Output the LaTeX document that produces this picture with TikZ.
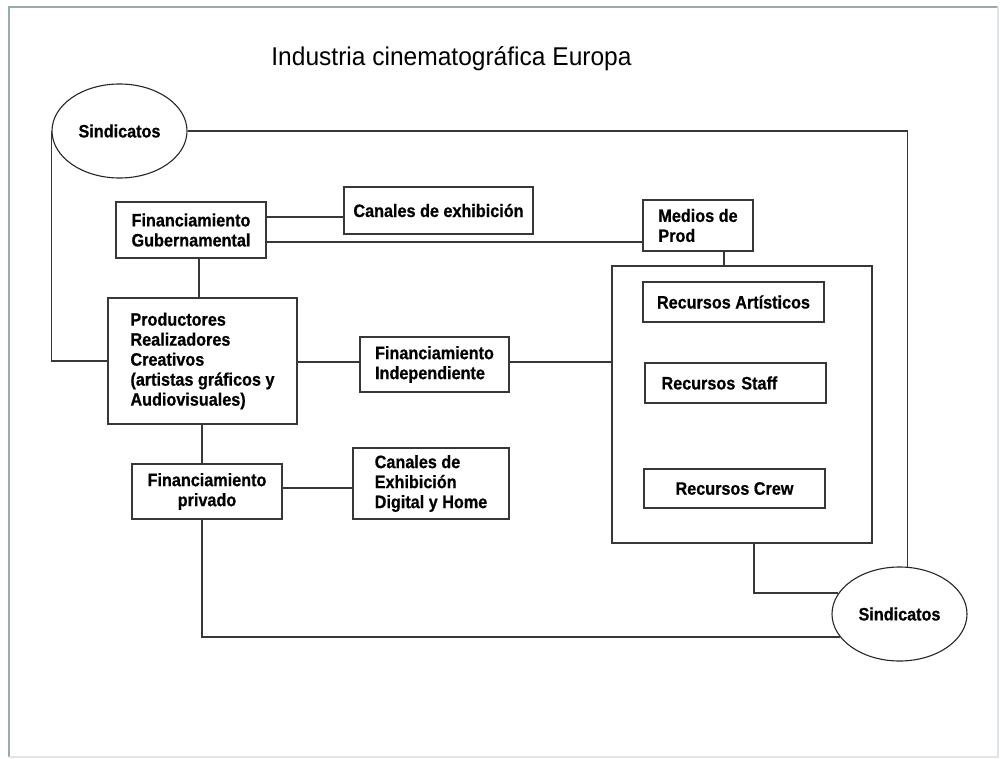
\documentclass[tikz,border=0pt]{standalone}
\usepackage{fontspec}
\setmainfont{Liberation Sans}
\newfontfamily\boxfont{Liberation Sans}[UprightFont={* Bold}, FakeStretch=0.9, FakeBold=0.6]
\newfontfamily\titlefont{Liberation Sans}[FakeStretch=0.955]
\usetikzlibrary{shapes.geometric}
\definecolor{framegray}{RGB}{150,172,168}
\definecolor{inkgray}{RGB}{55,55,55}
\begin{document}
\begin{tikzpicture}[x=1pt,y=-1pt,
  labelfont/.style={font=\boxfont\fontsize{18}{20}\selectfont},
  box/.style={draw=inkgray, line width=1.3pt, inner sep=0pt, align=left, labelfont},
  cbox/.style={box, align=center},
  union/.style={ellipse, draw=black!85, line width=1.1pt, minimum width=135pt,
                minimum height=94pt, inner sep=0pt, labelfont},
  link/.style={draw=inkgray, line width=1.2pt}]

  % page and frame
  \useasboundingbox (0,0) rectangle (1000,759);
  \fill[white] (0,0) rectangle (1000,759);
  \draw[framegray, line width=2pt] (9,757) -- (9,7) -- (998,7);
  \draw[framegray!30, line width=1.5pt] (998,7) -- (998,757) -- (9,757);

  % title
  \node[anchor=base, font=\titlefont\fontsize{25.7}{28}\selectfont] (title) at (451.5,66)
    {Industria cinematográfica Europa};

  % unions
  \node[union] (s1) at (119.5,131) {Sindicatos};
  \node[union] (s2) at (899.5,614) {Sindicatos};

  % funding, production and exhibition boxes
  \node[box, minimum width=150pt, minimum height=56pt] (fg) at (191,230)
    {Financiamiento\\Gubernamental};
  \node[cbox, minimum width=189pt, minimum height=47pt] (ce) at (438.5,210.5)
    {Canales de exhibición};
  \node[box, minimum width=110pt, minimum height=51pt] (mp) at (698,225.5)
    {Medios de\\Prod};
  \node[box, minimum width=189pt, minimum height=126pt] (prod) at (202.5,361)
    {Productores\\Realizadores\\Creativos\\(artistas gráficos y\\Audiovisuales)};
  \node[box, minimum width=149pt, minimum height=55pt] (fi) at (434.5,364.5)
    {Financiamiento\\Independiente};
  \node[cbox, minimum width=150pt, minimum height=55pt] (fp) at (207,491.5)
    {Financiamiento\\privado};
  \node[box, minimum width=156pt, minimum height=71pt] (cd) at (431,483.5)
    {Canales de\\Exhibición\\Digital y Home};

  % resources group
  \node[draw=inkgray, line width=2pt, minimum width=260pt, minimum height=277pt,
        inner sep=0pt] (big) at (742,404.5) {};
  \node[cbox, minimum width=181pt, minimum height=40pt] (ra) at (733.5,302)
    {Recursos Artísticos};
  \node[box, minimum width=181pt, minimum height=40pt, text width=148pt] (rs)
    at (735.5,383) {Recursos Staff};
  \node[cbox, minimum width=181pt, minimum height=39pt] (rc) at (734.5,488.5)
    {Recursos Crew};

  % connector rows and columns
  \coordinate (ya) at (0,217);
  \coordinate (yb) at (0,242);
  \coordinate (yc) at (0,362);
  \coordinate (yd) at (0,488);
  \coordinate (xa) at (199,0);
  \coordinate (xb) at (724,0);
  \coordinate (xc) at (202,0);
  \coordinate (xd) at (754,0);

  % connectors
  \draw[link] (s1.east) -| (s2.80);
  \draw[link] (s1.west) |- (prod.west);
  \draw[link] (fg.east |- ya) -- (ce.west |- ya);
  \draw[link] (fg.east |- yb) -- (mp.west |- yb);
  \draw[link] (fg.south -| xa) -- (prod.north -| xa);
  \draw[link] (mp.south -| xb) -- (big.north -| xb);
  \draw[link] (prod.east |- yc) -- (fi.west |- yc);
  \draw[link] (fi.east |- yc) -- (big.west |- yc);
  \draw[link] (prod.south -| xc) -- (fp.north -| xc);
  \draw[link] (fp.east |- yd) -- (cd.west |- yd);
  \draw[link] (fp.south -| xc) |- (s2.201);
  \draw[link] (big.south -| xd) |- (s2.161);
\end{tikzpicture}
\end{document}
